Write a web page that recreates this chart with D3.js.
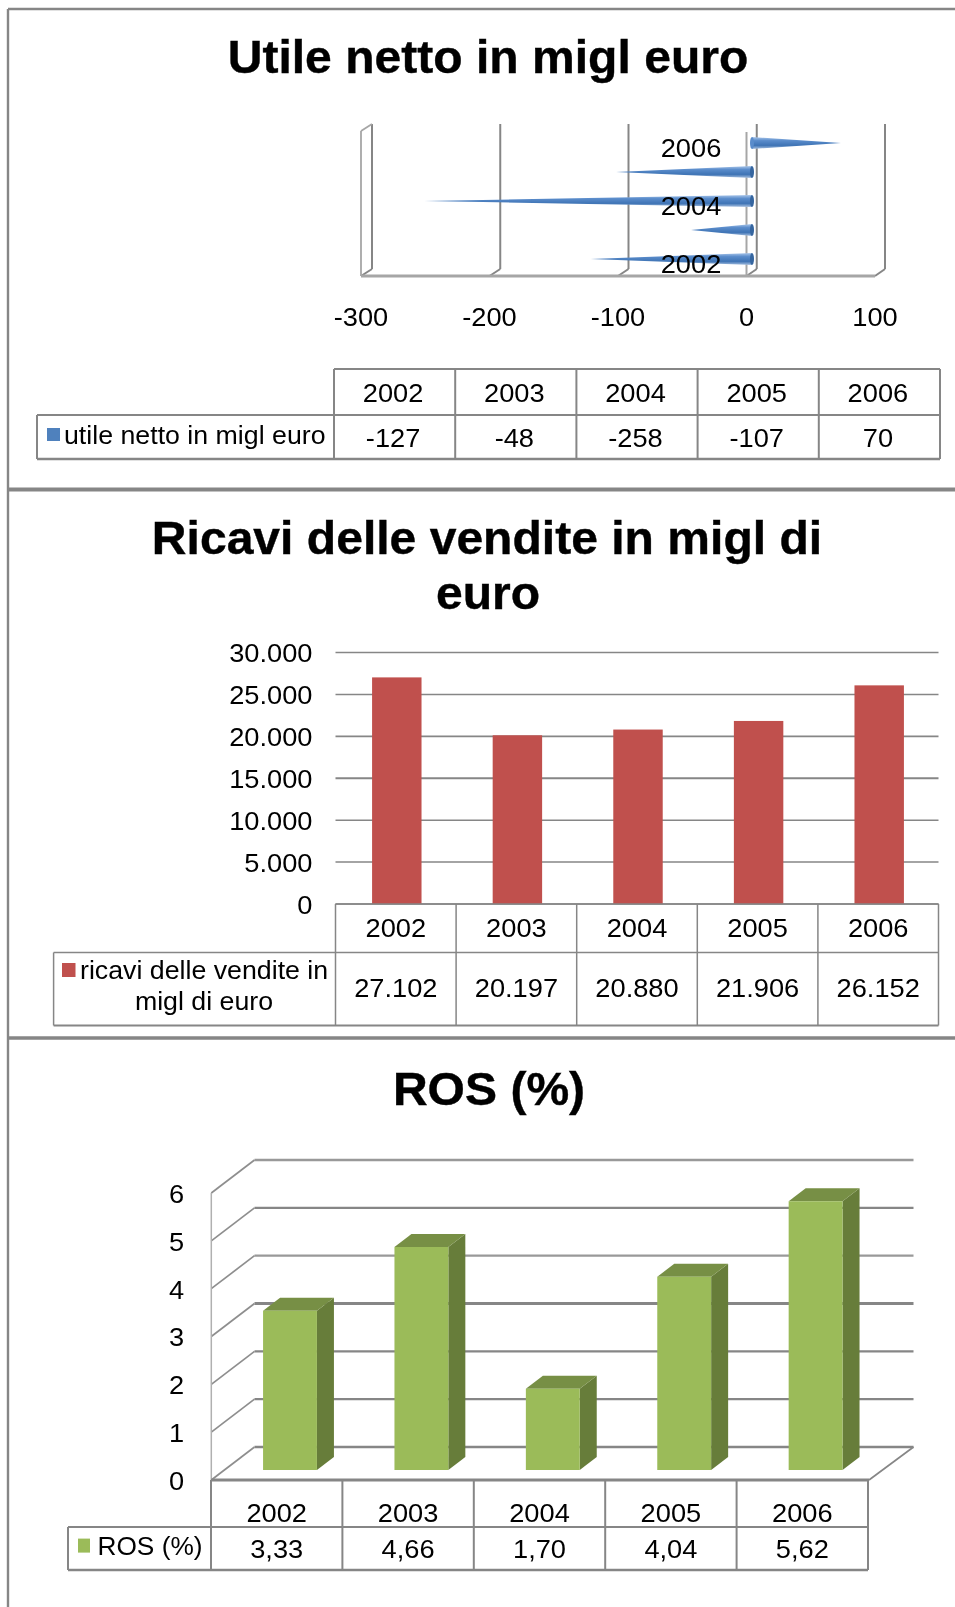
<!DOCTYPE html>
<html><head><meta charset="utf-8">
<script src="https://cdn.jsdelivr.net/npm/d3@7"></script>
<style>html,body{margin:0;padding:0;background:#fff}svg{display:block;filter:blur(.6px)}text{font-family:"Liberation Sans",Arial,sans-serif;fill:#000}</style>
</head><body><svg id="c" width="955" height="1607"></svg>
<script>
const years = ["2002","2003","2004","2005","2006"];
const utile = [-127,-48,-258,-107,70];
const utileLabels = ["-127","-48","-258","-107","70"];
const utileTicks = [-300,-200,-100,0,100];
const utileCatShown = ["2002","2004","2006"];
const ricavi = [27102,20197,20880,21906,26152];
const ricaviLabels = ["27.102","20.197","20.880","21.906","26.152"];
const ricaviTicks = [0,5000,10000,15000,20000,25000,30000];
const ros = [3.33,4.66,1.70,4.04,5.62];
const rosLabels = ["3,33","4,66","1,70","4,04","5,62"];
const rosTicks = [0,1,2,3,4,5,6];

const GRAY="#868686", SX=1.09, FS=25;
const svg=d3.select("#c");
const defs=svg.append("defs");
const g=defs.append("linearGradient").attr("id","cone").attr("x1",0).attr("x2",0).attr("y1",0).attr("y2",1);
[[0,"#a9c6ea"],[.3,"#5a8ccb"],[.7,"#3f74b5"],[1,"#a7c0e0"]].forEach(s=>g.append("stop").attr("offset",s[0]).attr("stop-color",s[1]));

function line(x1,y1,x2,y2,w=1.5,c=GRAY){svg.append("line").attr("x1",x1).attr("y1",y1).attr("x2",x2).attr("y2",y2).attr("stroke",c).attr("stroke-width",w);}
function txt(x,cy,s,o={}){const size=o.size||FS,sx=o.sx||SX;
  svg.append("text").attr("transform",`translate(${x},${cy+size*.358}) scale(${sx},1)`)
   .attr("text-anchor",o.anchor||"middle").attr("font-size",size).attr("font-weight",o.bold?"bold":"normal").text(s);}
function title(x,base,s){svg.append("text").attr("transform",`translate(${x},${base}) scale(1.045,1)`).attr("text-anchor","middle").attr("font-size",46).attr("font-weight","bold").attr("stroke","#000").attr("stroke-width",.4).text(s);}

// frame
line(8,9,955,9,2.4); line(8,9,8,1607,2.4);
line(8,489.5,955,489.5,4); line(8,1038,955,1038,3.4);

// ---------- Panel 1
title(488,73,"Utile netto in migl euro");
const xFront=d3.scaleLinear().domain([-300,100]).range([361,875]);
const xBack=d3.scaleLinear().domain([-300,100]).range([372,885]);
const xCone=d3.scaleLinear().domain([-300,100]).range([371,879]);
const yCat=d3.scalePoint().domain(years.slice().reverse()).range([143,259]);
utileTicks.forEach(t=>{
  const f=xFront(t),b=xBack(t);
  line(b,124,b,269,2); line(f,276,b,269,2);
  txt(f,317,t);
});
line(361,131,361,276,1.8,"#a6a6a6"); line(361,131,372,124,1.8,"#a6a6a6");
line(361,276,875,276,3,"#a6a6a6");
line(xFront(0),132,xFront(0),276,2,"#a6a6a6");
years.forEach((y,i)=>{
  const v=utile[i],cy=yCat(y),base=xCone(0),tip=xCone(v),h=6;
  svg.append("path").attr("fill","url(#cone)").attr("d",d3.line()([[base,cy-h],[tip,cy],[base,cy+h]])+"Z");
  svg.append("ellipse").attr("cx",base).attr("cy",cy).attr("rx",2).attr("ry",h).attr("fill",v>0?"#5a8ccb":"#35659f");
});
utileCatShown.forEach(y=>txt(691,yCat(y)+5.5,y));

function table(x0,x1,xLeg,yT,yM,yB,hdrY,valY,labels,heavy,off=0){
  const xs=d3.scaleBand().domain(years).range([x0,x1]);
  line(x0,yT,x1,yT,heavy); line(x0,yM,x1,yM,heavy);line(xLeg,yM,x0,yM,heavy); line(xLeg,yB,x1,yB,heavy+.4);
  line(xLeg,yM,xLeg,yB,heavy);
  line(x0,yT,x0,yB,heavy);
  years.forEach((y,i)=>{
    line(xs(y)+xs.step(),yT,xs(y)+xs.step(),yB,heavy);
    txt(xs(y)+xs.step()/2+off,hdrY,y);
    txt(xs(y)+xs.step()/2+off,valY,labels[i]);
  });
}
table(334,940,37,369,415,459,393,438,utileLabels,2,-1.5);
svg.append("rect").attr("x",47).attr("y",428).attr("width",13).attr("height",13).attr("fill","#4f81bd");
svg.append("text").attr("transform","translate(64,444) scale(1.07,1)").attr("font-size",FS).text("utile netto in migl euro");

// ---------- Panel 2
title(487,554,"Ricavi delle vendite in migl di");
title(488,609,"euro");
const y2=d3.scaleLinear().domain([0,30000]).range([904,652.5]);
const x2=d3.scaleBand().domain(years).range([336.5,939.5]).paddingInner(.59).paddingOuter(.295);
const fmt=v=>d3.format(",")(v).replace(/,/g,".");
ricaviTicks.forEach(t=>{
  line(335.5,y2(t),938.5,y2(t),t===15000||t===20000?1.9:1.5);
  txt(312.5,y2(t)+1,fmt(t),{anchor:"end"});
});
svg.selectAll(null).data(ricavi).join("rect").attr("x",(d,i)=>x2(years[i])).attr("y",d=>y2(d)+.6)
  .attr("width",x2.bandwidth()).attr("height",d=>y2(0)-y2(d)-.6).attr("fill","#c0504d");
table(335.5,938.5,53.6,904,952.5,1025.5,928,988,ricaviLabels,1.5);
svg.append("rect").attr("x",62).attr("y",963).attr("width",13.5).attr("height",14).attr("fill","#c0504d");
svg.append("text").attr("transform","translate(80,979) scale(1.07,1)").attr("font-size",FS).text("ricavi delle vendite in");
svg.append("text").attr("transform","translate(204,1010) scale(1.07,1)").attr("text-anchor","middle").attr("font-size",FS).text("migl di euro");

// ---------- Panel 3
title(489,1105,"ROS (%)");
const yF=d3.scaleLinear().domain([0,6]).range([1480,1193]);
const yB3=d3.scaleLinear().domain([0,6]).range([1447,1160]);
rosTicks.forEach(t=>{
  line(254.5,yB3(t),913.5,yB3(t),t===3?2.8:2.3, t===6||t===4?"#999":GRAY);
  line(211.3,yF(t),254.5,yB3(t),1.7,"#8e8e8e");
  txt(176.6,yF(t)+1,t);
});
line(211.3,1193,211.3,1480,1.5,"#b0b0b0");
line(211.3,1480,869,1480,2.8);
line(869,1480,913.5,1447,1.7);
const x3=d3.scaleBand().domain(years).range([224.3,881.3]).paddingInner(.59).paddingOuter(.295);
const yBar=d3.scaleLinear().domain([0,6]).range([1470,1183]);
const dx=17,dy=-13;
years.forEach((y,i)=>{
  const a=x3(y),b=a+x3.bandwidth(),t=yBar(ros[i]),z=yBar(0);
  const poly=(p,c)=>svg.append("path").attr("d",d3.line()(p)+"Z").attr("fill",c);
  poly([[b,z],[b+dx,z+dy],[b+dx,t+dy],[b,t]],"#677d3a");
  poly([[a,t],[a+dx,t+dy],[b+dx,t+dy],[b,t]],"#778f45");
  poly([[a,t],[b,t],[b,z],[a,z]],"#9bbb59");
});
table(211,868,68,1480,1527,1570,1513,1549,rosLabels,2);
svg.append("rect").attr("x",78).attr("y",1538.6).attr("width",12).attr("height",14).attr("fill","#9bbb59");
svg.append("text").attr("transform","translate(97.5,1555) scale(1.05,1)").attr("font-size",FS).text("ROS (%)");
</script></body></html>
